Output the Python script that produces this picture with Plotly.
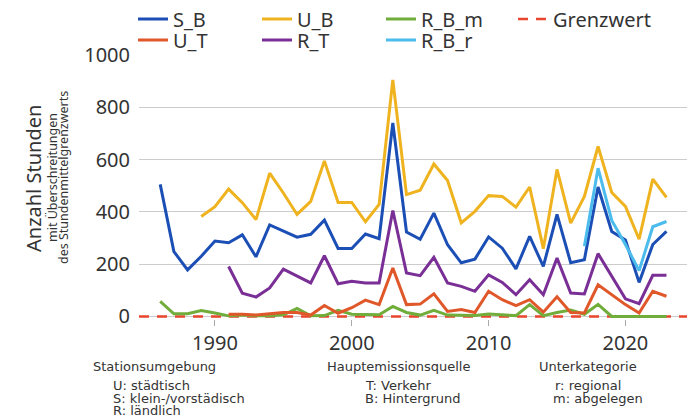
import plotly.graph_objects as go

years = list(range(1986, 2024))

S_B = [505, 248, 178, 230, 288, 282, 312, 228, 350, 327, 303, 314, 368, 260, 260, 315, 297, 740, 323, 295,
       395, 274, 205, 219, 304, 261, 182, 306, 191, 390, 205, 217, 495, 325, 292, 130, 275, 325]
U_B = [None, None, None, 382, 420, 487, 435, 370, 548, 472, 390, 440, 595, 436, 436, 362, 428, 905, 466, 483,
       583, 520, 358, 402, 462, 459, 418, 495, 259, 562, 357, 459, 650, 474, 421, 295, 525, 455]
R_B_m = [57, 10, 10, 22, 13, 2, 5, 2, 2, 6, 30, 2, 3, 23, 8, 6, 6, 38, 15, 5,
         23, 5, 5, 3, 9, 6, 3, 45, 3, 15, 24, 8, 46, 0, 0, 0, 0, 0]
U_T = [None, None, None, None, None, 8, 8, 5, 10, 15, 15, 5, 42, 12, 33, 62, 45, 185, 45, 47,
       86, 19, 26, 15, 96, 64, 41, 64, 16, 75, 15, 13, 121, 83, 45, 13, 96, 77]
R_T = [None, None, None, None, None, 191, 89, 74, 109, 181, 156, 128, 232, 125, 134, 128, 128, 405, 166, 156,
       226, 128, 115, 96, 159, 130, 83, 140, 83, 223, 89, 86, 240, 153, 67, 49, 157, 157]
R_B_r = [None] * 31 + [268, 567, 367, 275, 175, 343, 363]
grenzwert = 0

x_ticks = [1990, 2000, 2010, 2020]
y_ticks = [0, 200, 400, 600, 800, 1000]
x_range = [1984.45, 2024.5]
y_range = [-10, 1000]

colors = {
    "S_B": "#1c4fb5", "U_B": "#efb320", "R_B_m": "#70ad3a", "Grenzwert": "#e8452c",
    "U_T": "#e0582a", "R_T": "#7a2f96", "R_B_r": "#4cbcec",
}
legend_rank = {"S_B": 1, "U_B": 2, "R_B_m": 3, "Grenzwert": 4, "U_T": 5, "R_T": 6, "R_B_r": 7}
legend_row = {"S_B": "legend", "U_B": "legend", "R_B_m": "legend", "Grenzwert": "legend3",
              "U_T": "legend2", "R_T": "legend2", "R_B_r": "legend2"}

# the page body has an 8px margin; the figure is sized to fill the rest of the window
OFF = 8
W, H = 695 - OFF, 417 - OFF
ML, MR, MT, MB = 139 - OFF, 8, 55 - OFF, 98
PW, PH = W - ML - MR, H - MT - MB

FONT = "Noto Sans"
FONT2 = "DejaVu Sans"
TXT = "#333333"

fig = go.Figure()
fig.add_trace(go.Scatter(x=x_range, y=[grenzwert, grenzwert], mode="lines", name="Grenzwert",
                         line=dict(color=colors["Grenzwert"], width=2.5, dash="10px,8px"),
                         legendrank=legend_rank["Grenzwert"], legend=legend_row["Grenzwert"],
                         cliponaxis=False))
series = [("R_B_m", R_B_m), ("U_T", U_T), ("R_T", R_T), ("S_B", S_B), ("R_B_r", R_B_r), ("U_B", U_B)]
for name, vals in series:
    fig.add_trace(go.Scatter(x=years, y=vals, mode="lines", name=name,
                             line=dict(color=colors[name], width=3),
                             legendrank=legend_rank[name], legend=legend_row[name]))


def px2paper(X, Y):
    """page pixel -> paper coords"""
    return (X - OFF - ML) / PW, (H - MB - (Y - OFF)) / PH


annots = []
def add_text(text, X, Y, size, xanchor="left", angle=0, family=FONT):
    px, py = px2paper(X, Y)
    annots.append(dict(text=text, x=px, y=py, xref="paper", yref="paper", showarrow=False,
                       xanchor=xanchor, yanchor="middle", textangle=angle,
                       font=dict(family=family, size=size, color=TXT)))

add_text("Anzahl Stunden", 33, 178, 20, xanchor="center", angle=-90)
add_text("mit Überschreitungen", 52, 178, 12.5, xanchor="center", angle=-90)
add_text("des Stundenmittelgrenzwerts", 63, 178, 12.5, xanchor="center", angle=-90)

add_text("Stationsumgebung", 91, 366, 13, family=FONT2)
add_text("U: städtisch", 111, 385, 13, family=FONT2)
add_text("S: klein-/vorstädisch", 111, 398, 13, family=FONT2)
add_text("R: ländlich", 111, 410.5, 13, family=FONT2)
add_text("Hauptemissionsquelle", 325, 366, 13, family=FONT2)
add_text("T: Verkehr", 363, 385, 13, family=FONT2)
add_text("B: Hintergrund", 363, 398, 13, family=FONT2)
add_text("Unterkategorie", 537, 366, 13, family=FONT2)
add_text("r: regional", 553, 385, 13, family=FONT2)
add_text("m: abgelegen", 551, 398, 13, family=FONT2)

lx, ly1 = px2paper(133, 19)
_, ly2 = px2paper(133, 40)
lx3, _ = px2paper(133 + 3 * 124 + 8, 19)
legend_common = dict(orientation="h", xanchor="left", yanchor="middle",
                     font=dict(family=FONT, size=20, color=TXT),
                     entrywidth=79, entrywidthmode="pixels", tracegroupgap=0,
                     bgcolor="rgba(0,0,0,0)", itemwidth=30)

fig.update_layout(
    width=W, height=H,
    margin=dict(l=ML, r=MR, t=MT, b=MB, pad=0, autoexpand=False),
    paper_bgcolor="white", plot_bgcolor="white",
    font=dict(family=FONT, size=20, color=TXT),
    showlegend=True,
    legend=dict(x=lx, y=ly1, **legend_common),
    legend2=dict(x=lx, y=ly2, **legend_common),
    legend3=dict(x=lx3, y=ly1, orientation="h", xanchor="left", yanchor="middle",
                 font=dict(family=FONT, size=20, color=TXT), bgcolor="rgba(0,0,0,0)", itemwidth=30),
    annotations=annots,
    xaxis=dict(range=x_range, tickvals=x_ticks, ticks="outside", ticklen=6, tickcolor="#aaaaaa",
               showgrid=False, zeroline=False, showline=False, automargin=False,
               tickfont=dict(family=FONT, size=20, color=TXT)),
    yaxis=dict(range=y_range, tickvals=y_ticks, showgrid=True, gridcolor="#cccccc", gridwidth=1,
               zeroline=False, showline=False, ticks="", ticklabelstandoff=8, automargin=False,
               tickfont=dict(family=FONT, size=20, color=TXT)),
)

fig.write_html("out.html")
